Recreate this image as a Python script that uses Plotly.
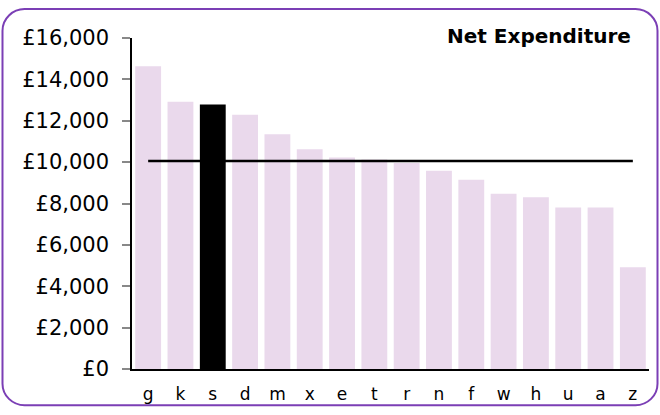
import plotly.graph_objects as go

categories = ["g", "k", "s", "d", "m", "x", "e", "t", "r", "n", "f", "w", "h", "u", "a", "z"]
net_expenditure = [14640, 12920, 12780, 12290, 11350, 10620, 10220, 10130, 9960, 9580, 9150, 8470, 8300, 7810, 7810, 4920]
highlight = "s"
average_value = 10060
y_tick_values = [0, 2000, 4000, 6000, 8000, 10000, 12000, 14000, 16000]
y_tick_labels = ["£0", "£2,000", "£4,000", "£6,000", "£8,000", "£10,000", "£12,000", "£14,000", "£16,000"]
title_text = "Net Expenditure"

W, H = 660, 415
ML, MR, MT, MB = 132, 11, 38, 39
PW, PH = W - ML - MR, H - MT - MB

BAR_COLOR = "#ead9ec"
HI_COLOR = "#000000"
BORDER = "#7b3fb5"
FONT = "DejaVu Sans"

colors = [HI_COLOR if c == highlight else BAR_COLOR for c in categories]

fig = go.Figure()
fig.add_trace(go.Bar(x=categories, y=net_expenditure, marker=dict(color=colors, line=dict(width=0)),
                     hoverinfo="x+y", showlegend=False))
fig.add_trace(go.Scatter(x=categories, y=[average_value] * len(categories), mode="lines",
                         line=dict(color="#000000", width=2.5), showlegend=False, hoverinfo="y"))


def px(X):
    return (X - ML) / PW


def py(Y):
    return (H - MB - Y) / PH


# rounded border around the whole chart, in pixels converted to paper coords
x0, y0, x1, y1, r = 2.5, 8.5, 657.5, 413, 22
k = 0.45
path = (
    f"M {px(x0 + r)},{py(y0)} L {px(x1 - r)},{py(y0)} "
    f"C {px(x1 - r * k)},{py(y0)} {px(x1)},{py(y0 + r * k)} {px(x1)},{py(y0 + r)} "
    f"L {px(x1)},{py(y1 - r)} "
    f"C {px(x1)},{py(y1 - r * k)} {px(x1 - r * k)},{py(y1)} {px(x1 - r)},{py(y1)} "
    f"L {px(x0 + r)},{py(y1)} "
    f"C {px(x0 + r * k)},{py(y1)} {px(x0)},{py(y1 - r * k)} {px(x0)},{py(y1 - r)} "
    f"L {px(x0)},{py(y0 + r)} "
    f"C {px(x0)},{py(y0 + r * k)} {px(x0 + r * k)},{py(y0)} {px(x0 + r)},{py(y0)} Z"
)
fig.add_shape(type="path", path=path, xref="paper", yref="paper",
              line=dict(color=BORDER, width=2), fillcolor="rgba(0,0,0,0)", layer="above")

fig.add_annotation(text=f"<b>{title_text}</b>", xref="paper", yref="paper",
                   x=px(633), y=py(36), xanchor="right", yanchor="middle",
                   showarrow=False, font=dict(family=FONT, size=20, color="#000000"))

fig.update_layout(
    width=W, height=H, autosize=False,
    margin=dict(l=ML, r=MR, t=MT, b=MB, pad=0),
    paper_bgcolor="#ffffff", plot_bgcolor="#ffffff",
    bargap=0.2,
    font=dict(family=FONT, color="#000000"),
    xaxis=dict(showline=True, linecolor="#000000", linewidth=1.5, ticks="", showgrid=False,
               tickfont=dict(size=17, family=FONT), ticklabelstandoff=9, fixedrange=True),
    yaxis=dict(range=[0, 16000], tickvals=y_tick_values, ticktext=y_tick_labels,
               showline=True, linecolor="#000000", linewidth=1.5, ticks="outside",
               ticklen=8, tickcolor="#888888", tickwidth=1.5, showgrid=False, zeroline=False,
               tickfont=dict(size=21, family=FONT), ticklabelstandoff=9, fixedrange=True),
)

fig.write_html("out.html", config={"displayModeBar": False, "responsive": False},
               post_script="document.body.style.margin='0px';document.body.style.overflow='hidden';")
